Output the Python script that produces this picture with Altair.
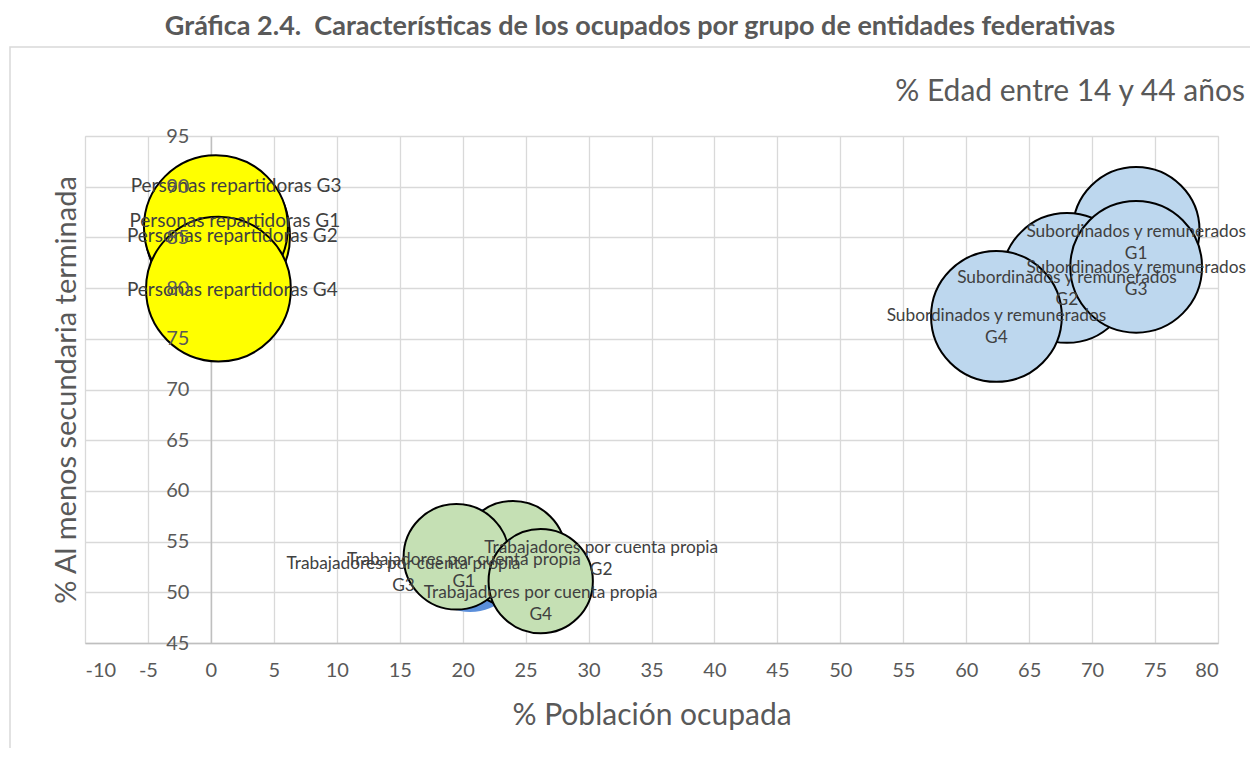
import altair as alt
import pandas as pd

# ---------------- data ----------------
grupos = ["Personas repartidoras"] * 4 + ["Subordinados y remunerados"] * 4 + ["Trabajadores por cuenta propia"] * 4
entidades = ["G1", "G2", "G3", "G4"] * 3
poblacion_ocupada = [0.5, 0.6, 0.4, 0.6, 73.5, 68.0, 73.5, 62.4, 19.5, 24.0, 20.6, 26.2]
secundaria_terminada = [85.6, 85.1, 86.0, 79.9, 85.7, 81.0, 82.1, 77.2, 53.5, 53.8, 53.2, 51.1]
edad_14_44 = [80, 79, 80, 81, 62, 65, 67, 66, 43, 43, 42, 42]
etiqueta_x = [1.9, 1.7, 2.0, 1.7, 73.5, 68.0, 73.5, 62.4, 20.1, 31.0, 15.3, 26.2]
etiqueta_y = [86.6, 85.1, 90.1, 79.8, 85.5, 81.0, 82.0, 77.25, 53.2, 54.4, 52.8, 49.9]
x_ticks = [-10, -5, 0, 5, 10, 15, 20, 25, 30, 35, 40, 45, 50, 55, 60, 65, 70, 75, 80]
y_ticks = [45, 50, 55, 60, 65, 70, 75, 80, 85, 90, 95]

titulo = "Gráfica 2.4.\u00a0 Características de los ocupados por grupo de entidades federativas"
titulo_tamano = "% Edad entre 14 y 44 años"
titulo_x = "% Población ocupada"
titulo_y = "% Al menos secundaria terminada"

claves = [g + " " + e for g, e in zip(grupos, entidades)]
textos = [
    (g + " " + e) if g == "Personas repartidoras" else (g + "\n" + e)
    for g, e in zip(grupos, entidades)
]

df = pd.DataFrame({
    "grupo": grupos,
    "entidad": entidades,
    "clave": claves,
    "x": poblacion_ocupada,
    "y": secundaria_terminada,
    "edad": edad_14_44,
})
# drawing order (later rows on top)
df = df.iloc[[0, 1, 2, 3, 4, 5, 6, 7, 10, 9, 8, 11]].reset_index(drop=True)

df_lab = pd.DataFrame({"grupo": grupos, "lx": etiqueta_x, "ly": etiqueta_y, "texto": textos})

colores = []
for c in claves:
    if c.startswith("Personas"):
        colores.append("#FFFF00")
    elif c.startswith("Subordinados"):
        colores.append("#BDD7EE")
    elif c == "Trabajadores por cuenta propia G3":
        colores.append("#5B8FDB")
    else:
        colores.append("#C5E0B4")

FONT = "Lato"
GRAY = "#595959"
W, H = 1133, 507
x_scale = alt.Scale(domain=[-10, 80], nice=False, zero=False)
y_scale = alt.Scale(domain=[45, 95], nice=False, zero=False)
x0_offset = -(0 - (-10)) / 90 * W

one = alt.Data(values=[{"k": 1}])

border = alt.Chart(one).mark_rect(
    fillOpacity=0, stroke="#D9D9D9", strokeWidth=1.5
).encode(
    x=alt.value(-75), x2=alt.value(W + 200), y=alt.value(-89), y2=alt.value(H + 200)
)

title_text = alt.Chart(one).mark_text(
    text=titulo, font=FONT, fontSize=27, fontWeight="bold", color=GRAY,
    align="center", baseline="middle"
).encode(x=alt.value(555), y=alt.value(-109))

size_text = alt.Chart(one).mark_text(
    text=titulo_tamano, font=FONT, fontSize=30, color=GRAY,
    align="right", baseline="middle"
).encode(x=alt.value(1160), y=alt.value(-44))

bubbles = alt.Chart(df).mark_circle(
    opacity=1, stroke="black", strokeWidth=2
).encode(
    x=alt.X("x:Q", scale=x_scale, axis=alt.Axis(
        values=x_ticks, grid=True, gridColor="#D9D9D9", gridWidth=1.3,
        domain=True, domainColor="#BFBFBF", domainWidth=1.5, ticks=False,
        labelFont=FONT, labelFontSize=20, labelColor=GRAY, labelPadding=17,
        labelExpr="replace(datum.label, '\u2212', '-')",
        title=titulo_x, titleFont=FONT, titleFontSize=30, titleFontWeight="normal",
        titleColor=GRAY, titlePadding=20)),
    y=alt.Y("y:Q", scale=y_scale, axis=alt.Axis(
        orient="left", offset=x0_offset, values=y_ticks, grid=True, gridColor="#D9D9D9",
        gridWidth=1.3, domain=True, domainColor="#BFBFBF", domainWidth=1.5,
        ticks=False, labels=False, title="")),
    size=alt.Size("edad:Q", scale=alt.Scale(domain=[0, 100], range=[0, 25900]), legend=None),
    color=alt.Color("clave:N", scale=alt.Scale(domain=claves, range=colores), legend=None),
    strokeOpacity=alt.condition(alt.datum.clave == "Trabajadores por cuenta propia G3",
                                alt.value(0), alt.value(1)),
)

labels = alt.Chart(df_lab).mark_text(
    font=FONT, color="#404040", lineBreak="\n", lineHeight=22,
    align="center", baseline="middle"
).encode(
    x=alt.X("lx:Q", scale=x_scale, axis=None),
    y=alt.Y("ly:Q", scale=y_scale, axis=alt.Axis(
        orient="left", offset=x0_offset, values=y_ticks, grid=False, domain=False,
        ticks=False, labels=True, labelFont=FONT, labelFontSize=20, labelColor=GRAY,
        labelPadding=22, zindex=1,
        title=titulo_y, titleFont=FONT, titleFontSize=29, titleFontWeight="normal",
        titleColor=GRAY, titleX=-144, titleY=H / 2, titleAngle=270,
        titleBaseline="middle", titleAlign="center")),
    text="texto:N",
    size=alt.condition(alt.datum.grupo == "Personas repartidoras", alt.value(19), alt.value(17.3)),
)

chart = alt.layer(border, title_text, size_text, bubbles, labels).resolve_axis(
    x="independent", y="independent"
).properties(
    width=W, height=H,
    autosize=alt.AutoSizeParams(type="none"),
    padding={"left": 77, "top": 128, "right": 32, "bottom": 105},
).configure_view(strokeWidth=0).configure(font=FONT)

chart.save("out.html", embed_options={"renderer": "svg", "actions": False})
